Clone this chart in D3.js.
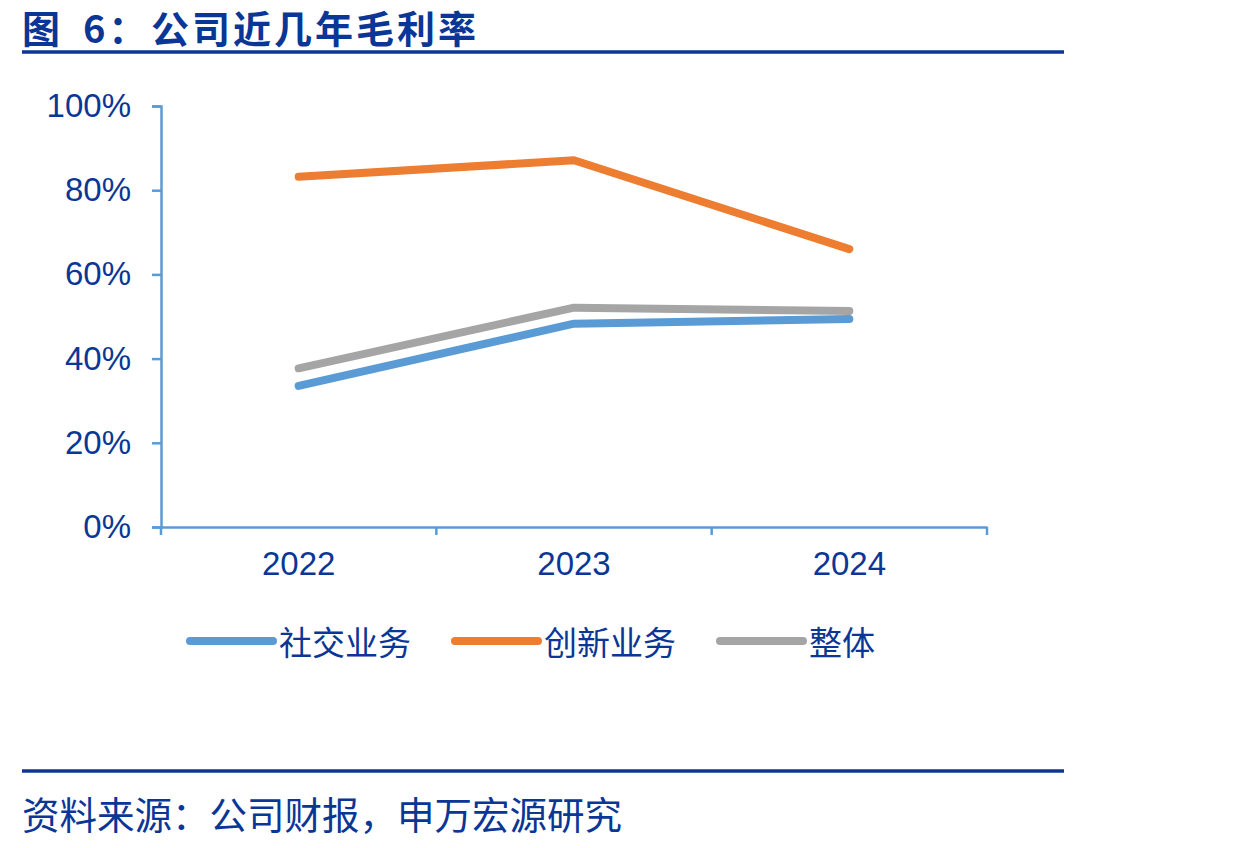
<!DOCTYPE html>
<html>
<head>
<meta charset="utf-8">
<script src="https://cdn.jsdelivr.net/npm/d3@7"></script>
<style>
  body { margin: 0; background: #fff; }
  svg { display: block; font-family: "Liberation Sans", Arial, "Noto Sans CJK SC", sans-serif; }
</style>
</head>
<body>
<div id="chart"></div>
<script>
// data
const years = ["2022", "2023", "2024"];
const social = [0.335, 0.483, 0.494];
const innovation = [0.832, 0.871, 0.660];
const overall = [0.377, 0.521, 0.513];
const seriesNames = ["社交业务", "创新业务", "整体"];
const seriesColors = ["#5b9bd5", "#ed7d31", "#a5a5a5"];
const yTicks = [0, 0.2, 0.4, 0.6, 0.8, 1.0];

const width = 1234, height = 848;
const navy = "#0a3696";

const svg = d3.select("#chart")
  .append("svg")
  .attr("width", width)
  .attr("height", height);

// title + rules
const title = svg.append("text")
  .attr("y", 43)
  .attr("fill", navy)
  .style("font-family", "'Noto Sans CJK SC', sans-serif")
  .style("font-weight", "bold")
  .style("font-size", "38px")
  .style("letter-spacing", "3px");
title.append("tspan").attr("x", 22).text("图");
title.append("tspan").attr("x", 83).text("6：");
title.append("tspan").attr("x", 151).text("公司近几年毛利率");

svg.append("line")
  .attr("x1", 22).attr("x2", 1064)
  .attr("y1", 52).attr("y2", 52)
  .attr("stroke", navy).attr("stroke-width", 3.5);

svg.append("line")
  .attr("x1", 22).attr("x2", 1064)
  .attr("y1", 771).attr("y2", 771)
  .attr("stroke", navy).attr("stroke-width", 3.5);

svg.append("text")
  .attr("x", 22)
  .attr("y", 829)
  .attr("fill", navy)
  .style("font-family", "'Noto Sans CJK SC', sans-serif")
  .style("font-size", "37.5px")
  .text("资料来源：公司财报，申万宏源研究");

// chart area
const margin = { left: 161, right: 247, top: 106, bottom: 321 };
const chartW = width - margin.left - margin.right;
const chartH = height - margin.top - margin.bottom;

const x = d3.scaleBand().domain(years).range([0, chartW]);
const y = d3.scaleLinear().domain([0, 1]).range([chartH, 0]);

const g = svg.append("g")
  .attr("transform", `translate(${margin.left},${margin.top})`);

const yAxis = g.append("g")
  .call(d3.axisLeft(y).tickValues(yTicks).tickFormat(d3.format(".0%")).tickSize(9).tickPadding(21));

const xAxis = g.append("g")
  .attr("transform", `translate(0,${chartH})`)
  .call(d3.axisBottom(x).tickSize(0).tickPadding(25));

// x ticks at band edges
const edges = years.map(d => x(d)).concat([chartW]);
xAxis.selectAll(".edge")
  .data(edges)
  .join("line")
  .attr("class", "edge")
  .attr("x1", d => d).attr("x2", d => d)
  .attr("y1", 0).attr("y2", 8);

[yAxis, xAxis].forEach(a => {
  a.select(".domain").attr("stroke", "#5b9bd5").attr("stroke-width", 2.5);
  a.selectAll("line").attr("stroke", "#5b9bd5").attr("stroke-width", 2.5);
  a.selectAll("text")
    .attr("fill", navy)
    .style("font-family", "'Liberation Sans', Arial, sans-serif")
    .style("font-size", "33px");
});
xAxis.selectAll(".tick text").attr("dy", "0.71em");

// lines
const allSeries = [social, innovation, overall];
const line = d3.line()
  .x((d, i) => x(years[i]) + x.bandwidth() / 2)
  .y(d => y(d));

g.selectAll(".series")
  .data(allSeries)
  .join("path")
  .attr("class", "series")
  .attr("d", d => line(d))
  .attr("fill", "none")
  .attr("stroke", (d, i) => seriesColors[i])
  .attr("stroke-width", 8)
  .attr("stroke-linecap", "round")
  .attr("stroke-linejoin", "round");

// legend
const legendX = [190, 455, 720];
const legend = svg.append("g")
  .selectAll("g")
  .data(seriesNames)
  .join("g")
  .attr("transform", (d, i) => `translate(${legendX[i]},641)`);

legend.append("line")
  .attr("x1", 0).attr("x2", 83)
  .attr("y1", 0).attr("y2", 0)
  .attr("stroke", (d, i) => seriesColors[i])
  .attr("stroke-width", 8)
  .attr("stroke-linecap", "round");

legend.append("text")
  .attr("x", 89)
  .attr("y", 2)
  .attr("dy", "0.36em")
  .attr("fill", navy)
  .style("font-family", "'Noto Sans CJK SC', sans-serif")
  .style("font-size", "33px")
  .text(d => d);
</script>
</body>
</html>
